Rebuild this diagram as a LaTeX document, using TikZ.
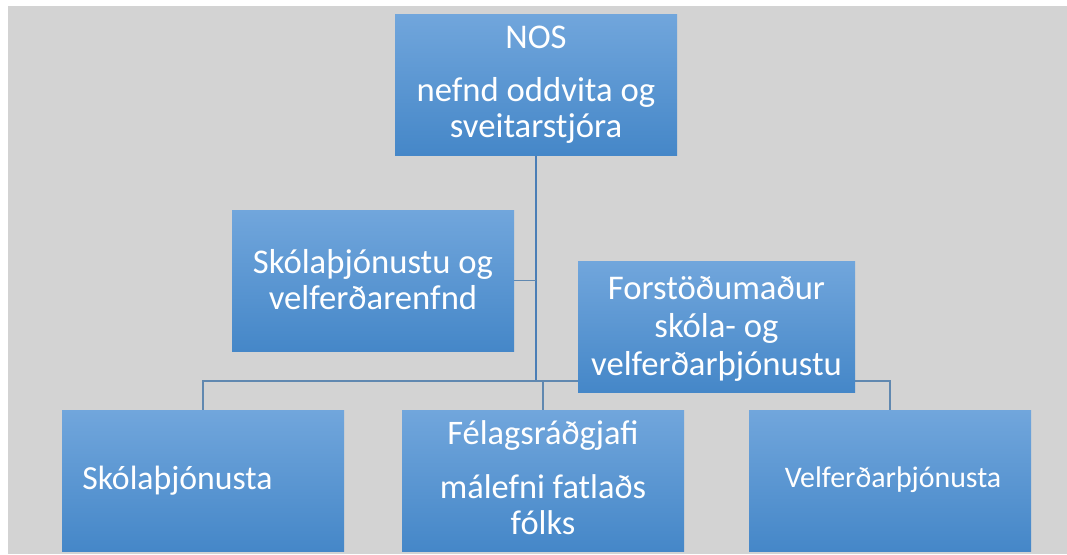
\documentclass[tikz,border=0pt]{standalone}
\usepackage{fontspec}
\setmainfont{Carlito}
\usetikzlibrary{backgrounds}
\definecolor{bggray}{HTML}{D3D3D3}
\definecolor{boxtop}{HTML}{71A6DC}
\definecolor{boxmid}{HTML}{5B9BD8}
\definecolor{boxbot}{HTML}{4587C8}
\definecolor{mainln}{HTML}{4A7EB6}
\definecolor{subln}{HTML}{6088B0}
\tikzset{
  orgbox/.style={draw=none, rectangle, inner sep=0pt, top color=boxtop, middle color=boxmid, bottom color=boxbot},
  lbl/.style={text=white, inner sep=0pt, anchor=base, font=\fontsize{26pt}{28pt}\selectfont},
  lblskola/.style={lbl, font=\fontsize{25.3pt}{28pt}\selectfont},
  lblfelag/.style={lbl, font=\fontsize{25.8pt}{28pt}\selectfont},
  lblsmall/.style={lbl, font=\fontsize{22.4pt}{25pt}\selectfont},
  mainline/.style={draw=mainln, line width=1.5pt},
  subline/.style={draw=subln, line width=1.1pt}
}
\begin{document}
\begin{tikzpicture}[x=0.75pt, y=-0.75pt]
\useasboundingbox (0,0) rectangle (1067,554);
% boxes
\node[orgbox, minimum width=282*0.75pt, minimum height=141*0.75pt] (nos) at (536,84.5) {};
\node[orgbox, minimum width=282*0.75pt, minimum height=141*0.75pt] (nefnd) at (373,280.5) {};
\node[orgbox, minimum width=277*0.75pt, minimum height=131*0.75pt] (forst) at (716.5,326.5) {};
\node[orgbox, minimum width=282*0.75pt, minimum height=141*0.75pt] (skola) at (203,480.5) {};
\node[orgbox, minimum width=282*0.75pt, minimum height=141*0.75pt] (felag) at (543,480.5) {};
\node[orgbox, minimum width=282*0.75pt, minimum height=141*0.75pt] (velf) at (890,480.5) {};
\coordinate (j1) at (536,381);
\coordinate (j2) at (543,381);
\begin{pgfonlayer}{background}
  \fill[white] (0,0) rectangle (1067,554);
  \fill[bggray] (8,6) rectangle (1067,554);
  \draw[mainline] (nos.south) -- (j1);
  \draw[subline] (nefnd.east) -- (nefnd.east -| j1);
  \draw[subline] (j1) -| (skola.north);
  \draw[subline] (j1) -- (j2) -- (felag.north);
  \draw[subline] (j2) -| (velf.north);
\end{pgfonlayer}
% labels
\node[lbl] (nos1) at (536,48) {NOS};
\node[lbl] (nos2) at (536,101) {nefnd oddvita og};
\node[lbl] (nos3) at (536,137) {sveitarstjóra};
\node[lbl] (nef1) at (373,273) {Skólaþjónustu og};
\node[lbl] (nef2) at (373,309) {velferðarenfnd};
\node[lbl] (for1) at (716.5,299) {Forstöðumaður};
\node[lbl] (for2) at (716.5,337) {skóla- og};
\node[lbl] (for3) at (716.5,375) {velferðarþjónustu};
\node[lblskola, anchor=base west] (sko1) at (82,489) {Skólaþjónusta};
\node[lblfelag] (fel1) at (543,444) {Félagsráðgjafi};
\node[lblfelag] (fel2) at (543,498) {málefni fatlaðs};
\node[lblfelag] (fel3) at (543,534) {fólks};
\node[lblsmall] (vel1) at (893,487) {Velferðarþjónusta};
\end{tikzpicture}
\end{document}
